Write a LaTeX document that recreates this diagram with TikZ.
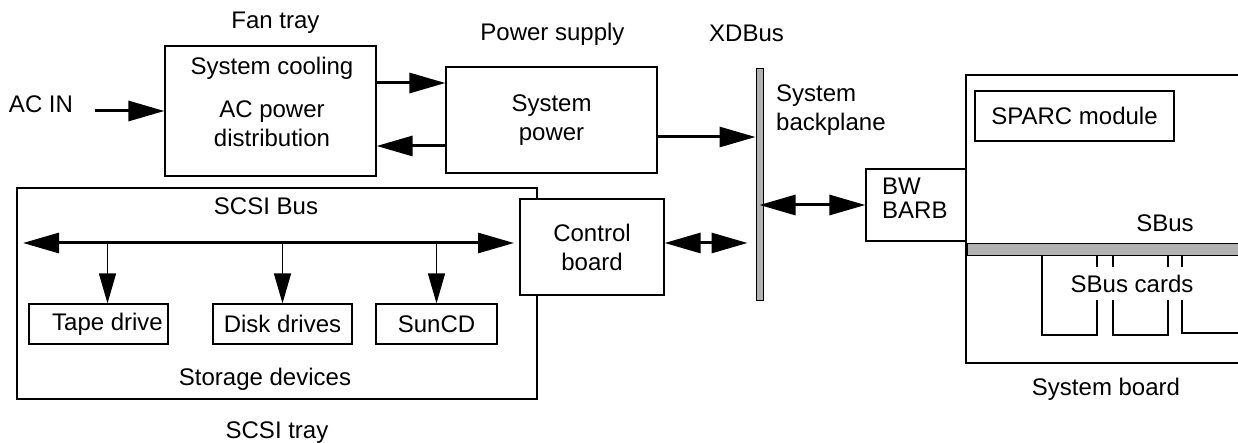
\documentclass[tikz,border=0pt]{standalone}
\usepackage{fontspec}
\setmainfont{Liberation Sans}
\usepackage{tikz}
\usetikzlibrary{arrows.meta}
\definecolor{barfill}{RGB}{178,178,178}

\begin{document}
\begin{tikzpicture}[x=1pt, y=-1pt,
				box/.style={draw, line width=1.2pt, inner sep=0pt},
				txt/.style={anchor=base, inner sep=0pt},
				bar/.style={draw, line width=1pt, fill=barfill, inner sep=0pt},
				fat/.style={line width=3pt, -{Triangle[length=36pt,width=20pt]}},
				fatboth/.style={line width=3pt, {Triangle[length=36pt,width=20pt]}-{Triangle[length=36pt,width=20pt]}},
				drop/.style={line width=1.5pt, -{Triangle[length=30pt,width=17pt]}},
				font=\fontsize{24}{29}\selectfont]
				%Bildbereich
				\useasboundingbox (0,0) rectangle (1238,443);
				\clip (0,0) rectangle (1238,443);
				% Fan tray
				\node[txt] (fanlbl) at (275.5,28.5) {Fan tray};
				\node[box, minimum width=211pt, minimum height=130pt] (fan) at (270.5,111) {};
				\node[align=center, inner sep=0pt] (fantxt) at (272,102) {System cooling\\[14pt]AC power\\distribution};
				\node[txt] (acin) at (41,113) {AC IN};
				\coordinate (acstart) at (95,111);
				\draw[fat] (acstart) -- (fan.west);
				% Power supply
				\node[txt] (pslbl) at (552.5,41) {Power supply};
				\node[box, minimum width=211pt, minimum height=106pt, align=center] (power) at (551.5,120) {System\\power};
				\coordinate (up) at (0,83);
				\coordinate (down) at (0,146);
				\draw[fat] (fan.east |- up) -- (power.west |- up);
				\draw[fat] (power.west |- down) -- (fan.east |- down);
				% XDBus
				\node[txt] (xdlbl) at (746.5,42) {XDBus};
				\node[bar, minimum width=7pt, minimum height=231pt] (xdbus) at (759.5,184.5) {};
				\node[align=left, anchor=north west, inner sep=0pt] (bplbl) at (776,85) {System\\backplane};
				\coordinate (ps) at (0,137);
				\draw[fat] (power.east |- ps) -- (xdbus.west |- ps);
				% SCSI tray
				\node[box, minimum width=520pt, minimum height=211pt] (tray) at (277,293.5) {};
				\node[txt] (buslbl) at (266,215) {SCSI Bus};
				\node[txt] (storlbl) at (265,385) {Storage devices};
				\node[txt] (traylbl) at (277,438) {SCSI tray};
				\node[box, minimum width=144pt, minimum height=96pt, fill=white, align=center] (control) at (592,247) {Control\\board};
				\node[box, minimum width=139pt, minimum height=40pt] (tape) at (98.5,324) {\hspace*{18pt}Tape drive};
				\node[box, minimum width=139pt, minimum height=40pt] (disk) at (282.5,324) {Disk drives};
				\node[box, minimum width=121pt, minimum height=40pt] (suncd) at (436.5,324) {SunCD};
				\coordinate (busl) at (23,243);
				\coordinate (busr) at (514,243);
				\coordinate (tapedrop) at ([xshift=9pt]tape.north);
				\draw[fatboth] (busl) -- (busr);
				\draw[drop] (tapedrop |- busl) -- (tapedrop);
				\draw[drop] (disk.north |- busl) -- (disk.north);
				\draw[drop] (suncd.north |- busl) -- (suncd.north);
				\coordinate (cb) at (0,243);
				\draw[fatboth, shorten >=8pt] (control.east |- cb) -- (xdbus.west |- cb);
				% System board
				\node[box, minimum width=296pt, minimum height=288pt] (board) at (1114,219) {};
				\node[box, minimum width=199pt, minimum height=50pt] (sparc) at (1074.5,116) {SPARC module};
				\node[box, minimum width=100pt, minimum height=72pt, fill=white] (bw) at (916,205) {};
				\node[align=left, anchor=north west, inner sep=0pt] (bwtxt) at (882,178) {BW\\[-5pt]BARB};
				\draw[fatboth] (xdbus.center |- bw.west) -- (bw.west);
				\node[txt] (sbuslbl) at (1165,232) {SBus};
				\node[bar, minimum width=295pt, minimum height=12pt] (sbus) at (1114.5,250) {};
				% SBus-Karten
				\foreach \l/\r/\b in {1042/1097/335, 1113/1168/335, 1182/1250/333}
					\draw[line width=1.2pt] (\l,256) |- (\r,\b) -- (\r,256);
				\node[txt, fill=white, inner xsep=1pt, inner ysep=8pt] (cardlbl) at (1132,292) {SBus cards};
				\node[txt] (boardlbl) at (1106,395) {System board};
			\end{tikzpicture}
\end{document}
